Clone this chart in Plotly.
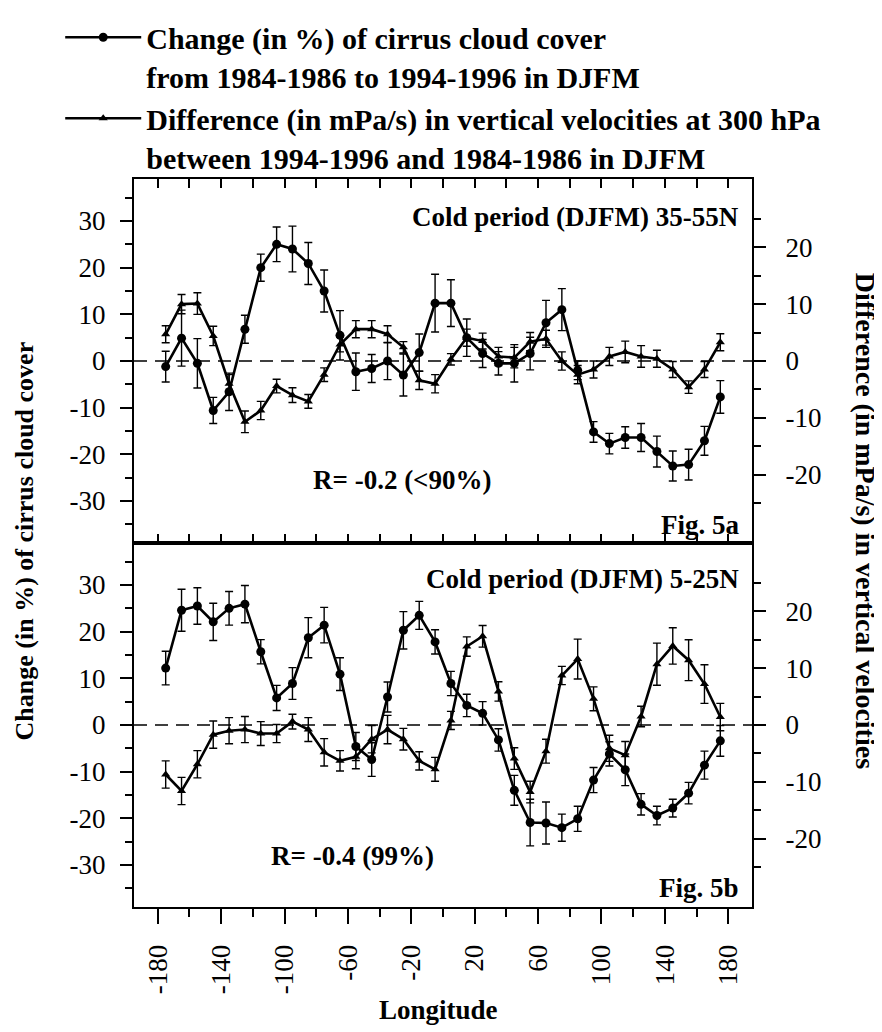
import plotly.graph_objects as go

# ---------------- data ----------------
lon = [-175, -165, -155, -145, -135, -125, -115, -105, -95, -85,
       -75, -65, -55, -45, -35, -25, -15, -5, 5, 15,
       25, 35, 45, 55, 65, 75, 85, 95, 105, 115,
       125, 135, 145, 155, 165, 175]

# Fig 5a : 35-55N
cirrus_a = [-1.2, 4.9, -0.5, -10.6, -6.6, 6.8, 20.0, 25.0, 24.0, 20.9,
            15.0, 5.5, -2.3, -1.6, 0.0, -3.0, 1.8, 12.4, 12.4, 5.0,
            1.6, -0.5, -0.5, 1.6, 8.2, 11.0, -2.0, -15.2, -17.7, -16.4,
            -16.4, -19.4, -22.5, -22.2, -17.1, -7.7]
cirrus_a_err = [3.3, 6.0, 5.3, 2.8, 4.0, 3.0, 2.9, 3.7, 4.9, 4.5,
                4.5, 5.3, 4.0, 3.0, 4.0, 4.5, 4.0, 6.2, 5.0, 4.0,
                3.0, 2.5, 4.0, 3.5, 4.8, 4.5, 2.0, 2.2, 2.2, 2.3,
                3.0, 3.3, 3.2, 3.3, 3.1, 3.5]
omega_a = [4.7, 10.0, 10.1, 4.4, -4.0, -10.7, -8.7, -4.4, -6.0, -7.1,
           -2.4, 2.9, 5.6, 5.6, 4.7, 2.4, -3.4, -4.0, 0.3, 4.1,
           3.5, 0.8, 0.6, 3.4, 3.9, 0.0, -2.4, -1.5, 0.8, 1.6,
           0.8, 0.4, -1.5, -4.6, -1.5, 3.3]
omega_a_err = [1.5, 1.7, 1.9, 1.7, 1.6, 1.9, 1.6, 1.2, 1.3, 1.2,
               1.2, 1.3, 1.5, 1.5, 1.5, 1.0, 1.6, 1.6, 1.0, 1.5,
               1.4, 1.6, 1.8, 1.6, 1.5, 1.6, 1.6, 1.5, 1.6, 1.9,
               1.9, 1.5, 1.4, 1.1, 1.4, 1.5]

# Fig 5b : 5-25N
cirrus_b = [12.2, 24.6, 25.5, 22.1, 25.0, 25.9, 15.7, 5.8, 8.9, 18.7,
            21.4, 10.9, -4.6, -7.4, 6.0, 20.3, 23.5, 17.8, 8.9, 4.2,
            2.5, -3.2, -14.0, -20.9, -21.0, -22.0, -20.1, -11.8, -6.2, -9.6,
            -17.0, -19.4, -17.8, -14.6, -8.6, -3.4]
cirrus_b_err = [3.6, 4.5, 3.9, 4.0, 3.6, 4.0, 2.6, 2.7, 3.4, 4.3,
                3.8, 3.5, 3.0, 3.6, 3.2, 4.0, 3.0, 2.6, 2.6, 2.4,
                2.5, 2.4, 3.2, 5.0, 4.5, 2.9, 2.7, 2.7, 2.6, 3.4,
                2.3, 2.0, 1.9, 2.3, 3.0, 3.3]
omega_b = [-8.7, -11.6, -6.9, -1.7, -1.0, -0.8, -1.5, -1.5, 0.6, -0.8,
           -4.8, -6.3, -5.6, -2.5, -0.8, -2.5, -6.3, -7.8, 0.8, 13.8,
           15.6, 5.9, -5.9, -11.8, -4.6, 8.7, 11.6, 4.6, -4.1, -5.3,
           1.5, 10.7, 13.9, 11.4, 7.2, 1.4]
omega_b_err = [2.4, 2.4, 2.4, 2.4, 2.3, 2.3, 2.1, 1.6, 1.3, 2.1,
               2.4, 1.8, 2.1, 2.4, 2.5, 1.9, 1.6, 2.1, 1.6, 1.7,
               1.9, 1.7, 1.9, 1.9, 2.1, 1.6, 3.5, 2.1, 2.3, 2.4,
               1.8, 3.7, 3.2, 3.6, 3.4, 2.4]

x_ticks = [-180, -140, -100, -60, -20, 20, 60, 100, 140, 180]
x_labels = ["-180", "-140", "-100", "-60", "-20", "20", "60", "100", "140", "180"]
x_minor = [-160, -120, -80, -40, 0, 40, 80, 120, 160]
left_ticks = [-30, -20, -10, 0, 10, 20, 30]
left_labels = ["-30", "-20", "-10", "0", "10", "20", "30"]
left_minor = [-35, -25, -15, -5, 5, 15, 25, 35]
right_ticks = [-20, -10, 0, 10, 20]
right_labels = ["-20", "-10", "0", "10", "20"]
right_minor = [-25, -15, -5, 5, 15, 25]

name_cirrus = "Change (in %) of cirrus cloud cover<br>from 1984-1986 to 1994-1996 in DJFM"
name_omega = "Difference (in mPa/s) in vertical velocities at 300 hPa<br>between 1994-1996 and 1984-1986 in DJFM"

# ---------------- figure ----------------
FONT = "Liberation Serif"
XR = [-195, 195]
YL = [-39, 39]
YR = [-32, 32]

fig = go.Figure()


def add(y, err, xa, ya, symbol, size, name, showlegend, group):
    fig.add_trace(go.Scatter(
        x=lon, y=y, xaxis=xa, yaxis=ya, mode="lines+markers",
        line=dict(color="black", width=2.6),
        marker=dict(symbol=symbol, size=size, color="black"),
        error_y=dict(type="data", array=err, visible=True, color="black",
                     thickness=1.4, width=4),
        name=name, showlegend=showlegend, legendgroup=group))


add(cirrus_a, cirrus_a_err, "x2", "y", "circle", 9, name_cirrus, True, "c")
add(omega_a, omega_a_err, "x2", "y2", "triangle-up", 8, name_omega, True, "o")
add(cirrus_b, cirrus_b_err, "x", "y3", "circle", 9, name_cirrus, False, "c")
add(omega_b, omega_b_err, "x", "y4", "triangle-up", 8, name_omega, False, "o")

tickfont = dict(family=FONT, size=27, color="black")
boldfont = dict(family=FONT, size=27, color="black", weight="bold")
legfont = dict(family=FONT, size=30, color="black", weight="bold")


def xax(**kw):
    d = dict(range=XR, tickmode="array", tickvals=x_ticks, ticktext=x_labels,
             showgrid=False, zeroline=False, linecolor="black", linewidth=2,
             automargin=False, tickcolor="black", tickwidth=2, showline=True)
    d.update(kw)
    return d


def yax(rng, tv, tt, mv, side, standoff, **kw):
    d = dict(range=rng, tickmode="array", tickvals=tv, ticktext=tt, ticks="outside",
             ticklen=12, tickwidth=2, tickcolor="black", showline=True,
             linecolor="black", linewidth=2, showgrid=False, zeroline=False,
             tickfont=tickfont, side=side, automargin=False,
             ticklabelstandoff=standoff,
             minor=dict(tickmode="array", tickvals=mv, ticks="outside",
                        ticklen=7, tickwidth=2, tickcolor="black"))
    d.update(kw)
    return d


fig.update_layout(
    width=882, height=1032,
    margin=dict(l=126, r=138, t=171, b=133, pad=0, autoexpand=False),
    paper_bgcolor="white", plot_bgcolor="white",
    showlegend=True,
    legend=dict(xref="container", yref="container", x=0.0592, y=0.9968,
                xanchor="left", yanchor="top", valign="top",
                font=legfont, itemwidth=76, tracegroupgap=0,
                bgcolor="rgba(0,0,0,0)"),
    # lower panel: labelled bottom axis (ticks outside), plain line on top
    xaxis=xax(anchor="y3", domain=[0, 1], side="bottom", ticks="outside",
              ticklen=15, mirror=True, showticklabels=True, tickangle=-90,
              tickfont=tickfont, ticklabelstandoff=10,
              minor=dict(tickmode="array", tickvals=x_minor, ticks="outside",
                         ticklen=8, tickwidth=2, tickcolor="black")),
    # upper panel: inside ticks on its top and bottom edges
    xaxis2=xax(anchor="y", domain=[0, 1], side="top", ticks="inside",
               ticklen=9, mirror="ticks", showticklabels=False,
               minor=dict(tickmode="array", tickvals=x_minor, ticks="inside",
                          ticklen=9, tickwidth=2, tickcolor="black")),
    # ticks hanging from the shared edge into the lower panel
    xaxis3=xax(anchor="y", overlaying="x2", side="bottom", ticks="outside",
               ticklen=13, showline=False, showticklabels=False,
               minor=dict(tickmode="array", tickvals=x_minor, ticks="outside",
                          ticklen=7, tickwidth=2, tickcolor="black")),
    yaxis=yax(YL, left_ticks, left_labels, left_minor, "left", 9,
              domain=[0.5, 1], anchor="x2"),
    yaxis2=yax(YR, right_ticks, right_labels, right_minor, "right", 14,
               overlaying="y", anchor="x2"),
    yaxis3=yax(YL, left_ticks, left_labels, left_minor, "left", 9,
               domain=[0, 0.5], anchor="x"),
    yaxis4=yax(YR, right_ticks, right_labels, right_minor, "right", 14,
               overlaying="y3", anchor="x"),
)

# dashed zero lines
for xr, yr in (("x2 domain", "y"), ("x domain", "y3")):
    fig.add_shape(type="line", xref=xr, x0=0, x1=1, yref=yr, y0=0, y1=0,
                  line=dict(color="black", width=1.5, dash="13px,8px"), layer="below")

# in-panel labels (positioned in the panel's own axis units)
panel_text = [
    ("Cold period (DJFM) 35-55N", "x2", "y", 188, 30.8, "right"),
    ("R= -0.2 (<90%)", "x2", "y", -25.5, -25.6, "center"),
    ("Fig. 5a", "x2", "y", 188, -35.2, "right"),
    ("Cold period (DJFM) 5-25N", "x", "y3", 188, 31.2, "right"),
    ("R= -0.4 (99%)", "x", "y3", -57, -28.0, "center"),
    ("Fig. 5b", "x", "y3", 188, -35.0, "right"),
]
for txt, xr, yr, xx, yy, anc in panel_text:
    fig.add_annotation(text=txt, xref=xr, yref=yr, x=xx, y=yy, xanchor=anc,
                       yanchor="middle", showarrow=False, font=boldfont)

fig.add_annotation(text="Longitude", xref="x", yref="paper", x=-3, y=-0.142,
                   xanchor="center", yanchor="middle", showarrow=False, font=boldfont)

fig.add_annotation(text="Change (in %) of cirrus cloud cover", xref="paper", yref="paper",
                   x=-0.177, y=0.503, textangle=-90, showarrow=False,
                   font=dict(boldfont, size=26), xanchor="center", yanchor="middle")
fig.add_annotation(text="Difference (in mPa/s) in vertical velocities", xref="paper", yref="paper",
                   x=1.184, y=0.531, textangle=90, showarrow=False,
                   font=dict(boldfont, size=28), xanchor="center", yanchor="middle")

fig.write_html("out.html")
